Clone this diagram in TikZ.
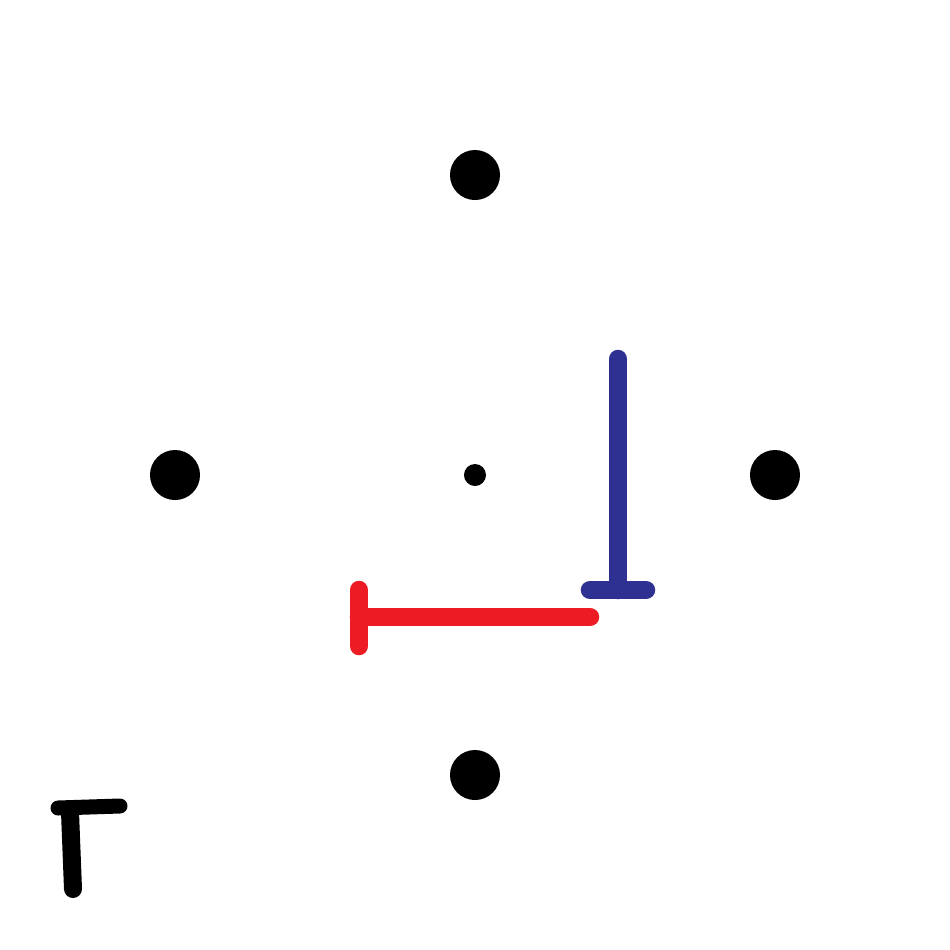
\documentclass[tikz,border=0pt]{standalone}
\definecolor{myred}{RGB}{237,28,36}
\definecolor{myblue}{RGB}{46,49,146}
\begin{document}
\begin{tikzpicture}[x=0.01cm,y=-0.01cm,
  bigdot/.style={circle,fill=black,inner sep=0pt,minimum size=0.5cm},
  smalldot/.style={circle,fill=black,inner sep=0pt,minimum size=0.22cm},
  redbar/.style={draw=myred,line width=0.185cm,line cap=round},
  bluebar/.style={draw=myblue,line width=0.185cm,line cap=round},
  gammastroke/.style={draw=black,line cap=round,line join=round}]
\useasboundingbox (0,0) rectangle (950,950);
\fill[white] (0,0) rectangle (950,950);
\node[bigdot] (top) at (475,175) {};
\node[bigdot] (left) at (175,475) {};
\node[bigdot] (right) at (775,475) {};
\node[bigdot] (bottom) at (475,775) {};
\node[smalldot] (center) at (475,475) {};
% blue T
\coordinate (bt) at (618,359);
\coordinate (bb) at (618,590);
\coordinate (bl) at (590,590);
\coordinate (br) at (646,590);
\draw[bluebar] (bt) -- (bb);
\draw[bluebar] (bl) -- (br);
% red T
\coordinate (rl) at (359,617);
\coordinate (rr) at (590,617);
\coordinate (rt) at (359,590);
\coordinate (rb) at (359,646);
\draw[redbar] (rl) -- (rr);
\draw[redbar] (rt) -- (rb);
% Gamma
\coordinate (gv1) at (70,812);
\coordinate (gv2) at (73,889);
\coordinate (gh1) at (58,808);
\coordinate (gh2) at (120,806);
\draw[gammastroke,line width=0.18cm] (gv1) -- (gv2);
\draw[gammastroke,line width=0.15cm] (gh1) -- (gh2);
\end{tikzpicture}
\end{document}
